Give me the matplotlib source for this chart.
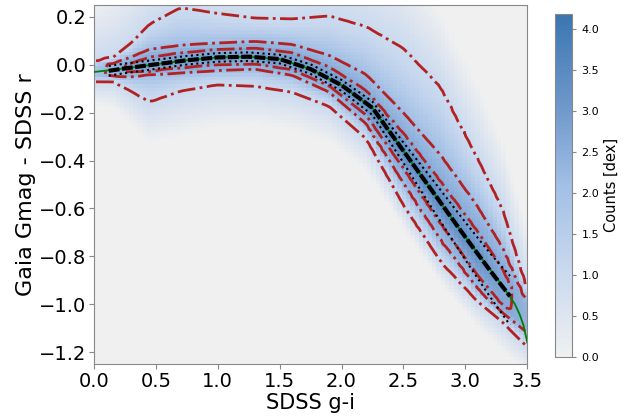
import numpy as np
import matplotlib
matplotlib.use("Agg")
import matplotlib.pyplot as plt
from matplotlib.colors import LinearSegmentedColormap

# ---------------- data ----------------
# running median (black dashed)
med_x = [0.12, 0.25, 0.5, 0.75, 1.0, 1.25, 1.5, 1.75, 2.0, 2.25, 2.5, 2.75, 3.0, 3.2, 3.36]
med_y = [-0.025, -0.015, 0.002, 0.019, 0.031, 0.034, 0.024, -0.018, -0.085, -0.18, -0.36, -0.54, -0.72, -0.86, -0.967]
# spread around the median (black dotted), upper / lower offsets
spr_up = [0.02, 0.02, 0.019, 0.018, 0.018, 0.018, 0.018, 0.02, 0.022, 0.026, 0.035, 0.05, 0.062, 0.072, 0.085]
spr_lo = [0.02, 0.02, 0.019, 0.018, 0.018, 0.018, 0.018, 0.02, 0.024, 0.03, 0.05, 0.075, 0.095, 0.11, 0.12]
# polynomial fit (green)
fit_x = [0.0, 0.25, 0.5, 0.75, 1.0, 1.25, 1.5, 1.75, 2.0, 2.25, 2.5, 2.75, 3.0, 3.2, 3.3, 3.35, 3.4, 3.44, 3.47, 3.5]
fit_y = [-0.03, -0.015, 0.002, 0.019, 0.031, 0.034, 0.024, -0.018, -0.085, -0.18, -0.36, -0.54, -0.72, -0.855,
         -0.925, -0.962, -1.0, -1.045, -1.09, -1.16]

# 2D histogram description (log10 counts) along the colour sequence
knot_x = [0.0, 0.15, 0.3, 0.45, 0.7, 1.0, 1.3, 1.6, 1.9, 2.2, 2.5, 2.8, 3.1, 3.3, 3.5]
ridge_y = [-0.03, -0.022, -0.011, 0.0, 0.016, 0.031, 0.033, 0.011, -0.05, -0.16, -0.36, -0.576, -0.79, -0.93, -1.07]
peak = [1.9, 2.3, 2.75, 2.9, 2.95, 3.0, 3.05, 3.1, 3.2, 3.45, 3.6, 3.6, 3.3, 2.75, 2.35]
# vertical offsets of the density levels from the ridge (inner, middle, outer, edge)
up1 = [0.01, 0.015, 0.02, 0.033, 0.035, 0.034, 0.038, 0.04, 0.04, 0.05, 0.07, 0.085, 0.09, 0.08, 0.03]
lo1 = [0.01, 0.015, 0.02, 0.03, 0.03, 0.032, 0.03, 0.032, 0.038, 0.05, 0.07, 0.085, 0.09, 0.08, 0.03]
up2 = [0.02, 0.03, 0.045, 0.065, 0.065, 0.06, 0.065, 0.075, 0.09, 0.12, 0.16, 0.2, 0.2, 0.17, 0.08]
lo2 = [0.02, 0.03, 0.04, 0.04, 0.05, 0.056, 0.052, 0.055, 0.065, 0.09, 0.14, 0.16, 0.15, 0.11, 0.05]
up3 = [0.043, 0.05, 0.10, 0.17, 0.224, 0.184, 0.162, 0.18, 0.255, 0.32, 0.43, 0.486, 0.40, 0.33, 0.12]
lo3 = [0.037, 0.045, 0.10, 0.157, 0.126, 0.114, 0.123, 0.126, 0.124, 0.15, 0.23, 0.25, 0.20, 0.145, 0.11]
upf = [0.3, 0.35, 0.42, 0.48, 0.5, 0.5, 0.5, 0.55, 0.62, 0.72, 0.8, 0.8, 0.72, 0.62, 0.4]
lof = [0.14, 0.16, 0.25, 0.33, 0.32, 0.3, 0.29, 0.29, 0.28, 0.29, 0.33, 0.34, 0.31, 0.27, 0.22]
levels = [1.0, 2.15, 2.6]  # outer, middle, inner

# ---------------- build the histogram image ----------------
x_edges = np.linspace(0.0, 3.5, 101)
y_edges = np.linspace(-1.25, 0.25, 101)
xc = 0.5 * (x_edges[1:] + x_edges[:-1])
yc = 0.5 * (y_edges[1:] + y_edges[:-1])
powers = [1.0, 1.0, 1.5, 1.1]
ts = np.linspace(0, 1, 9)[:-1]


def side(offs, vals):
    ko, kv = [], []
    for k in range(len(offs) - 1):
        a, b = offs[k], offs[k + 1]
        va, vb = vals[k], vals[k + 1]
        for t in ts:
            ko.append(a + (b - a) * t)
            kv.append(vb + (va - vb) * (1 - t) ** powers[k])
    ko.append(offs[-1])
    kv.append(vals[-1])
    return np.array(ko), np.array(kv)


Z = np.zeros((len(yc), len(xc)))
for j, xv in enumerate(xc):
    g = lambda arr: np.interp(xv, knot_x, arr)
    r = g(ridge_y)
    P = g(peak)
    lv = [P, levels[2], levels[1], levels[0], 0.0]
    ou, vu = side([0.0, g(up1), g(up2), g(up3), g(upf)], lv)
    ol, vl = side([0.0, g(lo1), g(lo2), g(lo3), g(lof)], lv)
    dk = np.concatenate([-ol[::-1], ou[1:]])
    dv = np.concatenate([vl[::-1], vu[1:]])
    col = np.interp(yc - r, dk, dv, left=0.0, right=0.0)
    Z[:, j] = np.minimum(col, P)

cmap = LinearSegmentedColormap.from_list(
    "cnt", [(0.0, "#f0f0f0"), (0.25, "#c9d9ef"), (0.5, "#a2bfe5"), (0.72, "#7199cc"), (1.0, "#3a76b0")])

fig = plt.figure(figsize=(6.3, 4.16), dpi=100)
ax = fig.add_axes([0.149, 0.125, 0.688, 0.863])
cax = fig.add_axes([0.881, 0.1425, 0.0275, 0.824])

mesh = ax.pcolormesh(x_edges, y_edges, Z, cmap=cmap, vmin=0.0, vmax=4.19, shading="flat", zorder=1)
ax.contour(xc, yc, Z, levels=levels, colors="#b22222", linestyles="dashdot", linewidths=2.0, zorder=2)

mx = np.array(med_x)
my = np.array(med_y)
ax.plot(fit_x, fit_y, color="green", lw=1.3, zorder=3)
ax.plot(mx, my + np.array(spr_up), color="black", ls=":", lw=1.5, zorder=4)
ax.plot(mx, my - np.array(spr_lo), color="black", ls=":", lw=1.5, zorder=4)
ax.plot(mx, my, color="black", lw=3.0, ls=(0, (2.6, 0.6)), zorder=5)

ax.set_xlim(0.0, 3.5)
ax.set_ylim(-1.25, 0.25)
ax.set_xticks(np.arange(0, 3.51, 0.5))
ax.set_yticks(np.arange(-1.2, 0.21, 0.2))
ax.set_xlabel("SDSS g-i", fontsize=15, labelpad=2)
ax.set_ylabel("Gaia Gmag - SDSS r", fontsize=16, labelpad=2)
ax.tick_params(labelsize=14, color="#888888", length=3.5, pad=2)
for s in ax.spines.values():
    s.set_color("#888888")

cb = fig.colorbar(mesh, cax=cax)
cb.set_ticks(np.arange(0, 4.01, 0.5))
cb.ax.tick_params(labelsize=8, color="#888888", length=3)
cb.outline.set_edgecolor("#888888")
cb.set_label("Counts [dex]", fontsize=10.5, labelpad=3)

fig.savefig("out.png", dpi=100)
